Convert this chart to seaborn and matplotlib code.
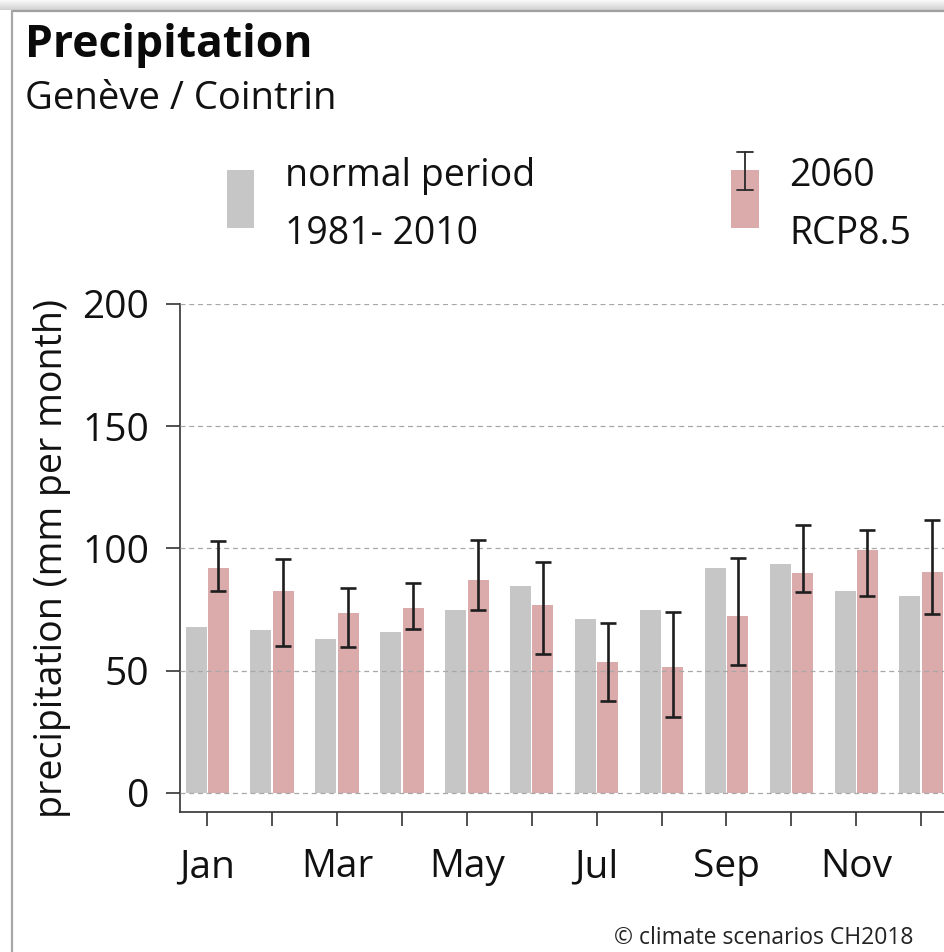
import matplotlib
matplotlib.use("Agg")
from matplotlib import pyplot as plt
from matplotlib.patches import Rectangle
from matplotlib.lines import Line2D
import numpy as np
import pandas as pd
import seaborn as sns

# data (mm per month)
months = ["Jan", "Feb", "Mar", "Apr", "May", "Jun",
          "Jul", "Aug", "Sep", "Oct", "Nov", "Dec"]
normal_1981_2010 = [68, 66.5, 63, 66, 75, 84.5, 71, 75, 92, 93.5, 82.5, 80.5]
rcp85_2060 = [92, 82.5, 73.5, 75.5, 87, 77, 53.5, 51.5, 72.5, 90, 99.5, 90.5]
rcp85_low = [82.5, 60, 59.5, 67, 75, 57, 37.5, 31, 52.5, 82, 80.5, 73]
rcp85_high = [103, 95.5, 84, 86, 103.5, 94.5, 69.5, 74, 96, 109.5, 107.5, 111.5]
tick_labels = ["Jan", "", "Mar", "", "May", "", "Jul", "", "Sep", "", "Nov", ""]

series = ["normal period 1981-2010", "2060 RCP8.5"]
df = pd.DataFrame({
    "month": months * 2,
    "precip": normal_1981_2010 + rcp85_2060,
    "series": [series[0]] * 12 + [series[1]] * 12,
})

GREY = "#c6c6c6"
RED = "#dbaaaa"
FONT = "Open Sans"

sns.set_style("white")
plt.rcParams["font.family"] = [FONT, "DejaVu Sans"]

W, H = 945, 952
fig = plt.figure(figsize=(W / 100, H / 100), dpi=100)

# axes placed in pixels; the right part runs past the picture edge like the reference crop
x0, x_jan, step = 180, 207.5, 64.9
xlim = (-0.42, 11.42)
ax_w = (xlim[1] - xlim[0]) * step
ax = fig.add_axes([x0 / W, (H - 812) / H, ax_w / W, (812 - 304) / H])

sns.barplot(data=df, x="month", y="precip", hue="series", order=months,
            hue_order=series, palette=[GREY, RED], width=0.69, gap=0.06,
            linewidth=0, saturation=1, legend=False, ax=ax)

# error bars on the 2060 bars, positioned from the drawn bars
red_bars = ax.containers[1]
xs = [b.get_x() + b.get_width() / 2 for b in red_bars]
vals = np.array(rcp85_2060)
yerr = [vals - np.array(rcp85_low), np.array(rcp85_high) - vals]
ax.errorbar(xs, vals, yerr=yerr, fmt="none", ecolor="#1e1e1e",
            elinewidth=1.9, capsize=5.5, capthick=1.9, zorder=5)

ax.set_xlim(*xlim)
ax.set_ylim(-7.8, 200)
ax.set_yticks([0, 50, 100, 150, 200])
ax.set_xticks(range(12))
ax.set_xticklabels(tick_labels)
ax.grid(axis="y", color="#a8a8a8", linestyle=(0, (4, 3)), linewidth=0.9)
ax.set_axisbelow(False)
for ln in ax.get_ygridlines():
    ln.set_zorder(3)
ax.set_xlabel("")
ax.set_ylabel("precipitation (mm per month)", fontsize=27, labelpad=8, color="#111")

for s in ["top", "right"]:
    ax.spines[s].set_visible(False)
for s in ["left", "bottom"]:
    ax.spines[s].set_color("#333")
    ax.spines[s].set_linewidth(1.2)
ax.tick_params(axis="both", length=10, width=1.2, color="#333",
               labelsize=28, labelcolor="#111", direction="out")
ax.tick_params(axis="x", pad=16)
ax.tick_params(axis="y", pad=12)
ax.yaxis.set_ticks_position("left")
ax.xaxis.set_ticks_position("bottom")


def fx(px):
    return px / W


def fy(py):
    return 1 - py / H


# titles
fig.text(fx(25), fy(57), "Precipitation", fontsize=32, fontweight="bold",
         va="baseline", ha="left", color="#0a0a0a")
fig.text(fx(25), fy(109), "Genève / Cointrin", fontsize=27.5,
         va="baseline", ha="left", color="#111")

# legend drawn in figure pixels
fig.add_artist(Rectangle((fx(227), fy(228)), fx(27), (228 - 170) / H,
                         facecolor=GREY, edgecolor="none", transform=fig.transFigure))
fig.add_artist(Rectangle((fx(731), fy(228)), fx(28), (228 - 170) / H,
                         facecolor=RED, edgecolor="none", transform=fig.transFigure))
ec = "#2a2a2a"
fig.add_artist(Line2D([fx(745), fx(745)], [fy(152), fy(190)], color=ec, lw=1.3,
                      transform=fig.transFigure))
for yy in (152, 190):
    fig.add_artist(Line2D([fx(737), fx(753)], [fy(yy), fy(yy)], color=ec, lw=1.3,
                          transform=fig.transFigure))
fig.text(fx(285), fy(186), "normal period", fontsize=27, va="baseline", color="#111")
fig.text(fx(285), fy(244), "1981- 2010", fontsize=27, va="baseline", color="#111")
fig.text(fx(789), fy(186), "2060", fontsize=27, va="baseline", color="#111")
fig.text(fx(789), fy(244), "RCP8.5", fontsize=27, va="baseline", color="#111")

fig.text(fx(913), fy(944), "© climate scenarios CH2018", fontsize=16.5,
         va="baseline", ha="right", color="#222")

# page frame: top shadow and grey border
shade = fig.add_axes([0, fy(10), 1, 10 / H])
shade.imshow(np.linspace(0.97, 0.82, 10).reshape(-1, 1), cmap="gray",
             vmin=0, vmax=1, aspect="auto", extent=(0, 1, 0, 1))
shade.axis("off")
fig.add_artist(Line2D([fx(12), 1], [fy(10.5), fy(10.5)], color="#a0a0a0", lw=1.6,
                      transform=fig.transFigure))
fig.add_artist(Line2D([fx(12), fx(12)], [fy(10.5), 0], color="#a8a8a8", lw=1.6,
                      transform=fig.transFigure))

fig.savefig("out.png", dpi=100)
plt.close()
